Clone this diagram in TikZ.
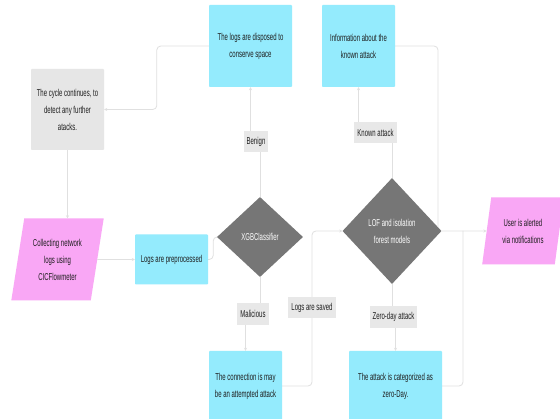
\documentclass[tikz,border=0pt]{standalone}
\usepackage{fontspec}
\setmainfont{Liberation Sans}[FakeStretch=0.6]
\usetikzlibrary{shapes.geometric,arrows.meta}
\definecolor{cyanbox}{HTML}{94EBFD}
\definecolor{pinkbox}{HTML}{F9A7F5}
\definecolor{greybox}{HTML}{E6E6E6}
\definecolor{diam}{HTML}{767676}
\definecolor{lbl}{HTML}{E8E8E8}
\definecolor{linec}{HTML}{E0E0E0}
\definecolor{txt}{HTML}{1E1E1E}
\pgfdeclarelayer{bg}
\pgfdeclarelayer{paper}
\pgfsetlayers{paper,bg,main}
\tikzset{
  every node/.style={font=\fontsize{10}{17}\selectfont, text=txt, align=center, inner sep=0pt},
  cbox/.style={rectangle, fill=cyanbox, rounded corners=0.8pt},
  gbox/.style={rectangle, fill=greybox, rounded corners=0.8pt},
  lab/.style={rectangle, fill=lbl, minimum height=21pt, inner xsep=3pt},
  dia/.style={diamond, fill=diam, text=white},
  para/.style={trapezium, trapezium stretches=true, fill=pinkbox},
  conn/.style={draw=linec, line width=0.8pt, rounded corners=4pt},
  arr/.style={-{Stealth[length=3pt,width=3pt]}},
}
\begin{document}
\begin{tikzpicture}[x=1pt,y=-1pt]
\useasboundingbox (0,0) rectangle (560,419);
\begin{pgfonlayer}{paper}
\fill[white] (0,0) rectangle (560,419);
\end{pgfonlayer}
% boxes
\node[cbox, minimum width=83pt, minimum height=82pt] (disp) at (250.5,46) {The logs are disposed to\\conserve space};
\node[cbox, minimum width=73pt, minimum height=82pt] (info) at (358.5,46) {Information about the\\known attack};
\node[gbox, minimum width=73pt, minimum height=81pt] (cycle) at (67.5,109.5) {The cycle continues, to\\detect any further\\atacks.};
\node[para, trapezium left angle=77, trapezium right angle=103, minimum width=93pt, minimum height=82pt] (collect) at (57.5,259.5) {Collecting network\\logs using\\CICFlowmeter};
\node[cbox, minimum width=73pt, minimum height=50pt] (prep) at (171.5,259.5) {Logs are preprocessed};
\node[dia, minimum width=86pt, minimum height=80pt] (xgb) at (260,237) {XGBClassifier};
\node[dia, minimum width=99pt, minimum height=106pt] (lof) at (392,231) {LOF and isolation\\forest models};
\node[para, trapezium left angle=76.5, trapezium right angle=103.5, minimum width=82pt, minimum height=67pt] (user) at (523,231) {User is alerted\\via notifications};
\node[cbox, minimum width=73pt, minimum height=70pt] (connbox) at (245.5,386) {The connection is may\\be an attempted attack};
\node[cbox, minimum width=93pt, minimum height=70pt] (zbox) at (395.5,386) {The attack is categorized as\\zero-Day.};
% labels
\node[lab] (benign) at (256,141.5) {Benign};
\node[lab] (known) at (375.5,132.5) {Known attack};
\node[lab, minimum height=22pt] (malic) at (253,314) {Malicious};
\node[lab] (saved) at (312,307.5) {Logs are saved};
\node[lab, minimum height=22pt] (zday) at (393.5,317) {Zero-day attack};
\coordinate (j1) at (438,231);
\coordinate (j2) at (463,231);
\begin{pgfonlayer}{bg}
\draw[conn, arr] (disp.west) -- ++(-52,0) |- (cycle.east);
\draw[conn, arr] (cycle.south) -- (cycle.south |- collect.north);
\draw[conn, arr] (collect.east) -- (prep.west);
\draw[conn, arr] (prep.east) -- ++(5,0) |- (xgb.west);
\draw[conn] (xgb.north) -- (xgb.north |- benign.south);
\draw[conn, arr] (disp.south |- benign.north) -- (disp.south);
\draw[conn] (xgb.south) -- (xgb.south |- malic.north);
\draw[conn, arr] (connbox.north |- malic.south) -- (connbox.north);
\draw[conn] (lof.north) -- (lof.north |- known.south);
\draw[conn, arr] (info.south |- known.north) -- (info.south);
\draw[conn] (lof.south) -- (lof.south |- zday.north);
\draw[conn, arr] (zbox.north |- zday.south) -- (zbox.north);
\draw[conn, arr] (connbox.east) -| (saved.center) |- (lof.west);
\draw[conn] (info.east) -| (j1);
\draw[conn] (zbox.east) -| (j2);
\draw[conn, arr] (lof.east) -- (user.west);
\end{pgfonlayer}
\end{tikzpicture}
\end{document}
